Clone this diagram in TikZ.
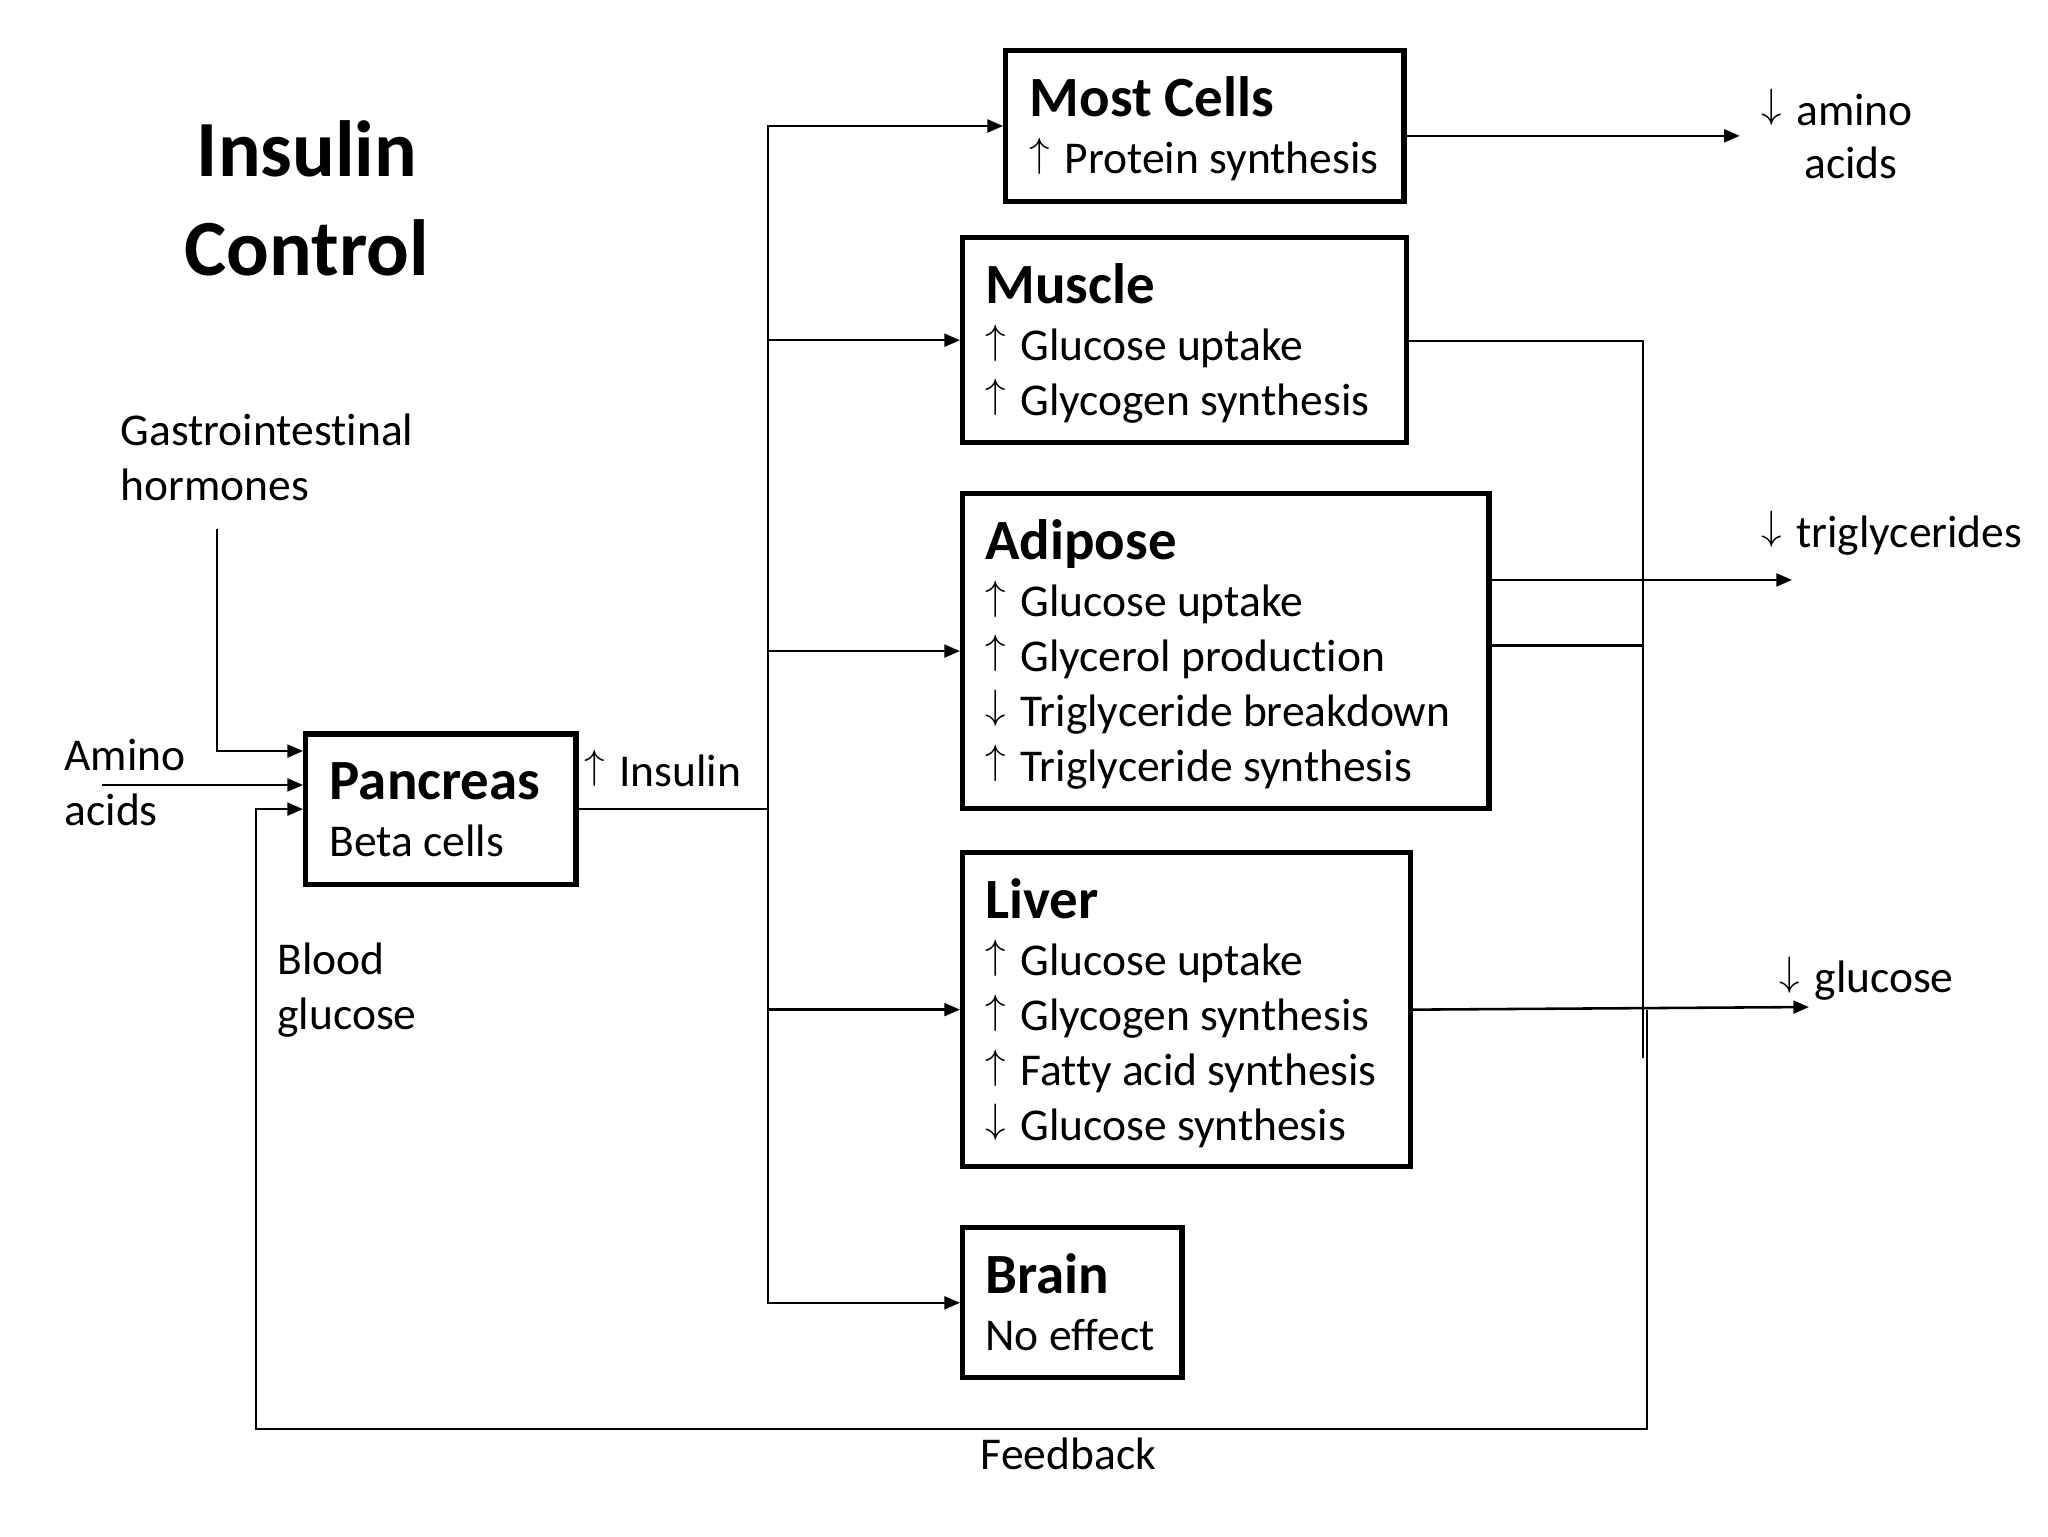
\documentclass[tikz,border=0pt]{standalone}
\usepackage{fontspec}
\setmainfont{Carlito}[Ligatures=NoCommon]
\usetikzlibrary{arrows.meta}
\newcommand{\myup}{{\fontsize{15.5}{16}\selectfont\raisebox{2.6pt}{$\uparrow$}}\hspace{1.5pt} }
\newcommand{\mydn}{{\fontsize{15.5}{16}\selectfont\raisebox{2.6pt}{$\downarrow$}}\hspace{1.5pt} }
\begin{document}
\begin{tikzpicture}[x=0.4592pt,y=-0.4592pt,
 box/.style={draw, line width=1.8pt, anchor=north west, inner sep=0},
 conn/.style={line width=0.9pt},
 arr/.style={conn, -{Triangle[length=5.5pt,width=4.5pt]}},
 body/.style={font=\fontsize{16}{19.5}\selectfont, anchor=base west, inner sep=0},
 head/.style={font=\fontsize{20}{24}\selectfont\bfseries, anchor=base west, inner sep=0},
 ttl/.style={font=\fontsize{28}{34}\selectfont\bfseries, anchor=base, inner sep=0}]
\path[use as bounding box] (0,0) rectangle (1568,1176);

% title
\node[ttl] (t1) at (235,135) {Insulin};
\node[ttl] (t2) at (235,211) {Control};

% boxes
\node[box, minimum width={305*0.4592pt}, minimum height={115*0.4592pt}] (mostcells) at (768,37) {};
\node[box, minimum width={340*0.4592pt}, minimum height={157*0.4592pt}] (muscle) at (735,180) {};
\node[box, minimum width={403*0.4592pt}, minimum height={241*0.4592pt}] (adipose) at (735,376) {};
\node[box, minimum width={343*0.4592pt}, minimum height={240*0.4592pt}] (liver) at (735,651) {};
\node[box, minimum width={168*0.4592pt}, minimum height={115*0.4592pt}] (brain) at (735,938) {};
\node[box, minimum width={207*0.4592pt}, minimum height={115*0.4592pt}] (panc) at (232,560) {};

% box texts
\node[head] (mcH) at (788,89) {Most Cells};
\node[body] (mc1) at (788,133) {\myup Protein synthesis};

\node[head] (muH) at (754,232) {Muscle};
\node[body] (mu1) at (754,276) {\myup Glucose uptake};
\node[body] (mu2) at (754,318) {\myup Glycogen synthesis};

\node[head] (adH) at (754,428) {Adipose};
\node[body] (ad1) at (754,472) {\myup Glucose uptake};
\node[body] (ad2) at (754,514) {\myup Glycerol production};
\node[body] (ad3) at (754,556) {\mydn Triglyceride breakdown};
\node[body] (ad4) at (754,598) {\myup Triglyceride synthesis};

\node[head] (liH) at (754,703) {Liver};
\node[body] (li1) at (754,747) {\myup Glucose uptake};
\node[body] (li2) at (754,789) {\myup Glycogen synthesis};
\node[body] (li3) at (754,831) {\myup Fatty acid synthesis};
\node[body] (li4) at (754,873) {\mydn Glucose synthesis};

\node[head] (brH) at (754,990) {Brain};
\node[body] (br1) at (754,1034) {No effect};

\node[head] (paH) at (252,612) {Pancreas};
\node[body] (pa1) at (252,656) {Beta cells};

% free labels
\node[body] (gi1) at (92,341) {Gastrointestinal};
\node[body] (gi2) at (92,383) {hormones};
\node[body] (am1) at (49,590) {Amino};
\node[body] (am2) at (49,632) {acids};
\node[body] (bg1) at (212,746) {Blood};
\node[body] (bg2) at (212,788) {glucose};
\node[body] (ins) at (447,602) {\myup Insulin};
\node[body] (oa1) at (1348,96) {\mydn amino};
\node[body] (oa2) at (1381,137) {acids};
\node[body] (otg) at (1348,419) {\mydn triglycerides};
\node[body] (ogl) at (1362,760) {\mydn glucose};
\node[body, anchor=base] (fbl) at (818,1125) {Feedback};

% coordinates
\coordinate (tx) at (588,0);
\coordinate (gA) at (166,405);
\coordinate (gy) at (0,575);
\coordinate (aA) at (78,601);
\coordinate (aminoT) at (1332,104);
\coordinate (v1) at (1258,261);
\coordinate (v1e) at (1258,810);
\coordinate (tgT) at (1372,444);
\coordinate (adLo) at (1258,494);
\coordinate (glT) at (1385,771);
\coordinate (fbA) at (1261,773);
\coordinate (fbB) at (196,1094);
\coordinate (tj) at (panc.east -| tx);

% inputs to pancreas
\draw[arr] (gA) |- (panc.west |- gy);
\draw[arr] (aA) -- (panc.west |- aA);
\draw[arr] (fbA) |- (fbB) |- (panc.west);

% insulin distribution
\draw[conn] (panc.east) -- (tj);
\draw[arr] (tj) |- (mostcells.west);
\draw[arr] (tj) |- (brain.west);
\draw[arr] (tj |- muscle.west) -- (muscle.west);
\draw[arr] (tj |- adipose.west) -- (adipose.west);
\draw[arr] (tj |- liver.west) -- (liver.west);

% outputs
\draw[arr] (mostcells.east |- aminoT) -- (aminoT);
\draw[conn] (muscle.east |- v1) -- (v1) -- (v1e);
\draw[arr] (adipose.east |- tgT) -- (tgT);
\draw[conn] (adipose.east |- adLo) -- (adLo);
\draw[arr] (liver.east |- fbA) -- (glT);
\end{tikzpicture}
\end{document}
